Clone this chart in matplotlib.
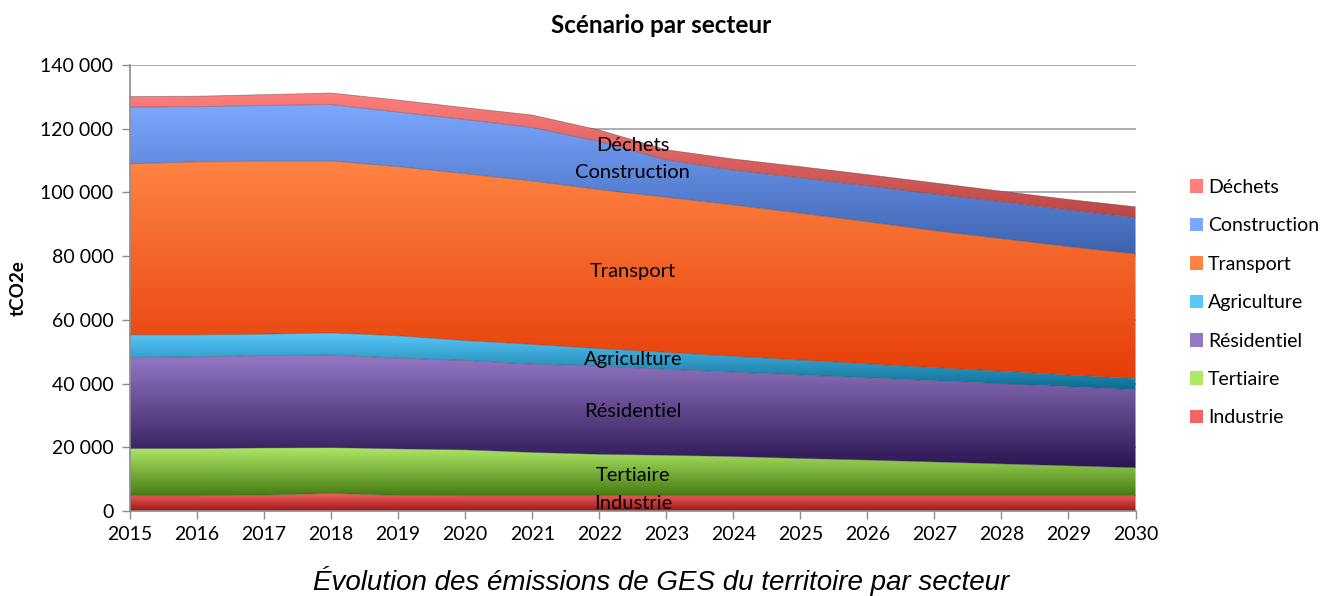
import numpy as np
import matplotlib
matplotlib.use("Agg")
import matplotlib.pyplot as plt
from matplotlib.colors import LinearSegmentedColormap
from matplotlib.patches import Patch
from matplotlib.ticker import FuncFormatter

# Data (tCO2e)
years = np.arange(2015, 2031)
industrie = np.array([4.8, 4.8, 5.0, 5.5, 4.9, 4.8, 4.8, 4.8, 4.8, 4.8, 4.8, 4.8, 4.8, 4.8, 4.8, 4.8]) * 1000
tertiaire = np.array([14.8, 14.8, 14.8, 14.4, 14.6, 14.4, 13.6, 13.0, 12.7, 12.3, 11.7, 11.2, 10.6, 10.0, 9.4, 8.8]) * 1000
residentiel = np.array([28.6, 28.8, 29.0, 29.1, 28.5, 28.1, 27.7, 27.7, 27.0, 26.5, 26.2, 25.8, 25.5, 25.2, 24.8, 24.5]) * 1000
agriculture = np.array([7.1, 6.9, 6.7, 6.9, 7.0, 6.2, 6.2, 5.5, 5.3, 5.0, 4.7, 4.4, 4.1, 3.9, 3.7, 3.5]) * 1000
transport = np.array([53.7, 54.3, 54.4, 54.0, 53.1, 52.4, 51.3, 49.9, 48.7, 47.5, 46.1, 44.6, 43.0, 41.6, 40.3, 39.1]) * 1000
construction = np.array([17.8, 17.3, 17.4, 17.7, 17.1, 17.0, 16.8, 15.1, 11.7, 10.9, 11.1, 11.3, 11.5, 11.6, 11.5, 11.4]) * 1000
dechets = np.array([3.3, 3.3, 3.4, 3.6, 3.8, 3.7, 3.9, 3.6, 3.2, 3.5, 3.5, 3.5, 3.5, 3.3, 3.3, 3.4]) * 1000

sectors = ["Industrie", "Tertiaire", "Résidentiel", "Agriculture", "Transport", "Construction", "Déchets"]
series = [industrie, tertiaire, residentiel, agriculture, transport, construction, dechets]
# (top colour, bottom colour) of each gradient
colors = [("#F26464", "#A01414"),
          ("#AEE866", "#467A12"),
          ("#9478C6", "#2A1450"),
          ("#58C8FA", "#0A6A90"),
          ("#FF8444", "#E63E08"),
          ("#7CA8FF", "#3E62B0"),
          ("#FF7E7E", "#BA4646")]

plt.rcParams["font.family"] = ["Lato", "DejaVu Sans"]

fig = plt.figure(figsize=(13.23, 5.96), dpi=100)
ax = fig.add_axes([0.0983, 0.1426, 0.7600, 0.7483])

cum = np.zeros(len(years))
for name, vals, (ctop, cbot) in zip(sectors, series, colors):
    lower = cum
    upper = cum + vals
    poly = ax.fill_between(years, lower, upper, facecolor="none", edgecolor="none", zorder=2)
    cmap = LinearSegmentedColormap.from_list(name, [cbot, ctop])
    grad = np.linspace(0, 1, 256).reshape(-1, 1)
    im = ax.imshow(grad, extent=[years[0], years[-1], lower.min(), upper.max()],
                   origin="lower", aspect="auto", cmap=cmap, zorder=2,
                   interpolation="bilinear")
    im.set_clip_path(poly.get_paths()[0], transform=ax.transData)
    ax.plot(years, upper, color="#404040", lw=0.6, alpha=0.45, zorder=3)
    # label in the middle of the band
    xm = 2022.5
    ym = (np.interp(xm, years, lower) + np.interp(xm, years, upper)) / 2
    ax.text(xm, ym, name, ha="center", va="center", fontsize=14.5, color="black", zorder=4)
    cum = upper

ax.set_xlim(2015, 2030)
ax.set_ylim(0, 140000)
ax.set_xticks(years)
ax.set_yticks(np.arange(0, 140001, 20000))
ax.yaxis.set_major_formatter(FuncFormatter(lambda v, p: f"{int(v):,}".replace(",", " ")))
ax.tick_params(axis="both", labelsize=14, length=6, color="#8C8C8C", width=1)
ax.tick_params(axis="x", pad=5)
ax.tick_params(axis="y", pad=6)
ax.grid(axis="y", color="#A0A0A0", lw=1.2, zorder=0)
ax.set_axisbelow(True)
for s in ["top", "right"]:
    ax.spines[s].set_visible(False)
for s in ["left", "bottom"]:
    ax.spines[s].set_color("#8C8C8C")
    ax.spines[s].set_linewidth(1.2)

ax.set_ylabel("tCO2e", fontsize=13.5, fontweight="bold", labelpad=10)
fig.text(0.4995, 0.957, "Scénario par secteur", ha="center", va="center",
         fontsize=17.5, fontweight="bold")
fig.text(0.4995, 0.025, "Évolution des émissions de GES du territoire par secteur",
         ha="center", va="center", fontsize=20, style="italic", family="Liberation Sans")

handles = [Patch(facecolor=c[0], edgecolor="none") for c in colors][::-1]
fig.legend(handles, sectors[::-1], loc="center left", bbox_to_anchor=(0.886, 0.492),
           frameon=False, fontsize=14, handlelength=0.7, handleheight=0.7,
           handletextpad=0.25, labelspacing=1.1)

fig.savefig("out.png", dpi=100)
